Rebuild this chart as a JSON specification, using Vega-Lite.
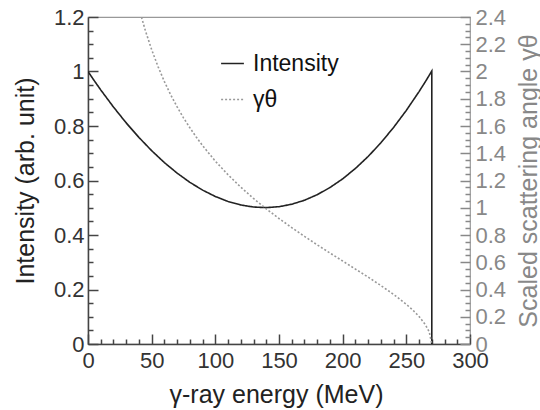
{
  "$schema": "https://vega.github.io/schema/vega-lite/v6.json",
  "width": 382,
  "height": 327,
  "autosize": {"type": "none"},
  "padding": {"left": 88, "top": 17, "right": 70, "bottom": 66},
  "background": "white",
  "config": {
    "font": "Liberation Sans",
    "view": {"stroke": "#999", "strokeWidth": 1.2},
    "axis": {"grid": false, "labelFont": "Liberation Sans", "titleFont": "Liberation Sans", "titleFontWeight": "normal", "labelFlush": false, "labelOverlap": false},
    "legend": {
      "orient": "none", "legendX": 132, "legendY": 34,
      "symbolType": "stroke", "symbolSize": 520, "symbolStrokeWidth": 1.6,
      "labelFontSize": 23, "labelColor": "#111", "labelFont": "Liberation Sans",
      "rowPadding": 11, "labelOffset": 8
    }
  },
  "data": {"values": [
    {"s":"Intensity","E":0,"v":1.0,"k":0},
    {"s":"Intensity","E":5,"v":0.9657,"k":1},
    {"s":"Intensity","E":10,"v":0.9325,"k":2},
    {"s":"Intensity","E":20,"v":0.8696,"k":3},
    {"s":"Intensity","E":30,"v":0.8114,"k":4},
    {"s":"Intensity","E":40,"v":0.758,"k":5},
    {"s":"Intensity","E":50,"v":0.7094,"k":6},
    {"s":"Intensity","E":60,"v":0.6657,"k":7},
    {"s":"Intensity","E":70,"v":0.627,"k":8},
    {"s":"Intensity","E":80,"v":0.5933,"k":9},
    {"s":"Intensity","E":90,"v":0.5647,"k":10},
    {"s":"Intensity","E":100,"v":0.5413,"k":11},
    {"s":"Intensity","E":110,"v":0.523,"k":12},
    {"s":"Intensity","E":120,"v":0.5101,"k":13},
    {"s":"Intensity","E":130,"v":0.5026,"k":14},
    {"s":"Intensity","E":140,"v":0.5005,"k":15},
    {"s":"Intensity","E":150,"v":0.5039,"k":16},
    {"s":"Intensity","E":160,"v":0.5129,"k":17},
    {"s":"Intensity","E":170,"v":0.5275,"k":18},
    {"s":"Intensity","E":180,"v":0.5479,"k":19},
    {"s":"Intensity","E":190,"v":0.5741,"k":20},
    {"s":"Intensity","E":200,"v":0.6061,"k":21},
    {"s":"Intensity","E":210,"v":0.6441,"k":22},
    {"s":"Intensity","E":220,"v":0.6881,"k":23},
    {"s":"Intensity","E":230,"v":0.7383,"k":24},
    {"s":"Intensity","E":240,"v":0.7947,"k":25},
    {"s":"Intensity","E":250,"v":0.8573,"k":26},
    {"s":"Intensity","E":260,"v":0.9263,"k":27},
    {"s":"Intensity","E":265,"v":0.9631,"k":28},
    {"s":"Intensity","E":270,"v":1.0017,"k":29},
    {"s":"Intensity","E":270,"v":0,"k":30},
    {"s":"γθ","E":42,"v":2.399,"k":0},
    {"s":"γθ","E":45,"v":2.302,"k":1},
    {"s":"γθ","E":50,"v":2.16,"k":2},
    {"s":"γθ","E":55,"v":2.036,"k":3},
    {"s":"γθ","E":60,"v":1.926,"k":4},
    {"s":"γθ","E":65,"v":1.828,"k":5},
    {"s":"γθ","E":70,"v":1.74,"k":6},
    {"s":"γθ","E":75,"v":1.66,"k":7},
    {"s":"γθ","E":80,"v":1.587,"k":8},
    {"s":"γθ","E":85,"v":1.519,"k":9},
    {"s":"γθ","E":90,"v":1.456,"k":10},
    {"s":"γθ","E":100,"v":1.342,"k":11},
    {"s":"γθ","E":110,"v":1.242,"k":12},
    {"s":"γθ","E":120,"v":1.151,"k":13},
    {"s":"γθ","E":130,"v":1.068,"k":14},
    {"s":"γθ","E":140,"v":0.992,"k":15},
    {"s":"γθ","E":150,"v":0.921,"k":16},
    {"s":"γθ","E":160,"v":0.854,"k":17},
    {"s":"γθ","E":170,"v":0.79,"k":18},
    {"s":"γθ","E":180,"v":0.728,"k":19},
    {"s":"γθ","E":190,"v":0.668,"k":20},
    {"s":"γθ","E":200,"v":0.609,"k":21},
    {"s":"γθ","E":210,"v":0.55,"k":22},
    {"s":"γθ","E":220,"v":0.491,"k":23},
    {"s":"γθ","E":230,"v":0.429,"k":24},
    {"s":"γθ","E":240,"v":0.364,"k":25},
    {"s":"γθ","E":250,"v":0.291,"k":26},
    {"s":"γθ","E":255,"v":0.25,"k":27},
    {"s":"γθ","E":260,"v":0.202,"k":28},
    {"s":"γθ","E":265,"v":0.141,"k":29},
    {"s":"γθ","E":268,"v":0.089,"k":30},
    {"s":"γθ","E":270,"v":0,"k":31}
  ]},
  "layer": [
    {
      "transform": [{"filter": "datum.s == 'Intensity'"}],
      "mark": {"type": "line", "strokeWidth": 1.6, "clip": true},
      "encoding": {
        "order": {"field": "k", "type": "quantitative"},
        "x": {"field": "E", "type": "quantitative",
          "scale": {"domain": [0, 300], "nice": false, "zero": false},
          "axis": {
            "orient": "bottom", "offset": -10, "domain": false, "ticks": true,
            "title": "γ-ray energy (MeV)", "titleFontSize": 25, "titleColor": "#222",
            "titleX": 188, "titleY": 68, "titleAlign": "center", "titleBaseline": "alphabetic",
            "values": [0, 50, 100, 150, 200, 250, 300],
            "labelFontSize": 22, "labelColor": "#333", "labelPadding": 6,
            "tickColor": "#444", "tickWidth": 1.5, "tickSize": 10
          }
        },
        "y": {"field": "v", "type": "quantitative",
          "scale": {"domain": [0, 1.2], "nice": false, "zero": true},
          "axis": {
            "orient": "left", "offset": -10, "domain": false, "ticks": true,
            "title": "Intensity (arb. unit)", "titleFontSize": 25, "titleColor": "#222",
            "titleX": -73, "titleY": 163.5, "titleAlign": "center", "titleBaseline": "middle", "titleAngle": -90,
            "values": [0, 0.2, 0.4, 0.6, 0.8, 1, 1.2],
            "labelExpr": "format(datum.value, '.1~f')",
            "labelFontSize": 22, "labelColor": "#333", "labelPadding": 4,
            "tickColor": "#444", "tickWidth": 1.5, "tickSize": 10
          }
        },
        "color": {"field": "s", "type": "nominal", "title": null,
          "scale": {"domain": ["Intensity", "γθ"], "range": ["#222222", "#999999"]}},
        "strokeDash": {"field": "s", "type": "nominal", "title": null,
          "scale": {"domain": ["Intensity", "γθ"], "range": [[1, 0], [2, 2]]}}
      }
    },
    {
      "transform": [{"filter": "datum.s == 'γθ'"}],
      "mark": {"type": "line", "strokeWidth": 1.6, "clip": true},
      "encoding": {
        "order": {"field": "k", "type": "quantitative"},
        "x": {"field": "E", "type": "quantitative",
          "scale": {"domain": [0, 300], "nice": false, "zero": false},
          "axis": {
            "orient": "bottom", "offset": -5, "title": null, "labels": false, "domain": false, "ticks": true,
            "values": [10,20,30,40,60,70,80,90,110,120,130,140,160,170,180,190,210,220,230,240,260,270,280,290],
            "tickColor": "#444", "tickWidth": 1.5, "tickSize": 5
          }
        },
        "y": {"field": "v", "type": "quantitative",
          "scale": {"domain": [0, 2.4], "nice": false, "zero": true},
          "axis": {
            "orient": "right", "offset": -10, "domain": false, "ticks": true,
            "title": "Scaled scattering angle γθ", "titleFontSize": 25, "titleColor": "#888",
            "titleX": 68, "titleY": 163.5, "titleAlign": "center", "titleBaseline": "middle", "titleAngle": -90,
            "values": [0, 0.2, 0.4, 0.6, 0.8, 1, 1.2, 1.4, 1.6, 1.8, 2, 2.2, 2.4],
            "labelExpr": "format(datum.value, '.1~f')",
            "labelFontSize": 22, "labelColor": "#888", "labelPadding": 5,
            "tickColor": "#888", "tickWidth": 1.5, "tickSize": 10
          }
        },
        "color": {"field": "s", "type": "nominal", "title": null,
          "scale": {"domain": ["Intensity", "γθ"], "range": ["#222222", "#999999"]}},
        "strokeDash": {"field": "s", "type": "nominal", "title": null,
          "scale": {"domain": ["Intensity", "γθ"], "range": [[1, 0], [2, 2]]}}
      }
    },
    {
      "transform": [{"filter": "datum.s == 'Intensity'"}],
      "mark": {"type": "line", "strokeOpacity": 0, "clip": true},
      "encoding": {
        "order": {"field": "k", "type": "quantitative"},
        "x": {"field": "E", "type": "quantitative",
          "scale": {"domain": [0, 300], "nice": false, "zero": false},
          "axis": {"orient": "bottom", "title": null, "labels": false, "ticks": false, "domain": true,
            "domainColor": "#444", "domainWidth": 1.5}},
        "y": {"field": "v", "type": "quantitative",
          "scale": {"domain": [0, 1.2], "nice": false, "zero": true},
          "axis": {
            "orient": "left", "offset": -5, "title": null, "labels": false, "domain": false, "ticks": true,
            "values": [0.05,0.1,0.15,0.25,0.3,0.35,0.45,0.5,0.55,0.65,0.7,0.75,0.85,0.9,0.95,1.05,1.1,1.15],
            "tickColor": "#444", "tickWidth": 1.5, "tickSize": 5
          }
        }
      }
    },
    {
      "transform": [{"filter": "datum.s == 'γθ'"}],
      "mark": {"type": "line", "strokeOpacity": 0, "clip": true},
      "encoding": {
        "order": {"field": "k", "type": "quantitative"},
        "x": {"field": "E", "type": "quantitative",
          "scale": {"domain": [0, 300], "nice": false, "zero": false}, "axis": null},
        "y": {"field": "v", "type": "quantitative",
          "scale": {"domain": [0, 2.4], "nice": false, "zero": true},
          "axis": {
            "orient": "right", "offset": -5, "title": null, "labels": false, "domain": false, "ticks": true,
            "values": [0.05,0.1,0.15,0.25,0.3,0.35,0.45,0.5,0.55,0.65,0.7,0.75,0.85,0.9,0.95,1.05,1.1,1.15,1.25,1.3,1.35,1.45,1.5,1.55,1.65,1.7,1.75,1.85,1.9,1.95,2.05,2.1,2.15,2.25,2.3,2.35],
            "tickColor": "#888", "tickWidth": 1.5, "tickSize": 5
          }
        }
      }
    },
    {
      "transform": [{"filter": "datum.s == 'Intensity'"}],
      "mark": {"type": "line", "strokeOpacity": 0, "clip": true},
      "encoding": {
        "order": {"field": "k", "type": "quantitative"},
        "x": {"field": "E", "type": "quantitative",
          "scale": {"domain": [0, 300], "nice": false, "zero": false}, "axis": null},
        "y": {"field": "v", "type": "quantitative",
          "scale": {"domain": [0, 1.2], "nice": false, "zero": true},
          "axis": {"orient": "left", "title": null, "labels": false, "ticks": false, "domain": true,
            "domainColor": "#444", "domainWidth": 1.5}
        }
      }
    }
  ],
  "resolve": {"scale": {"x": "independent", "y": "independent"}}
}
